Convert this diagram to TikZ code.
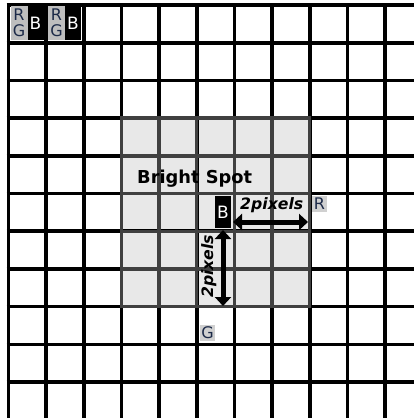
\documentclass[tikz,border=0pt]{standalone}
\usepackage{fontspec}
\setmainfont{DejaVu Sans}
\usetikzlibrary{arrows.meta}
\definecolor{spotgray}{HTML}{E8E8E8}
\definecolor{darkgrid}{HTML}{404040}
\definecolor{bayergray}{HTML}{BEBEBE}
\definecolor{labelgray}{HTML}{D0D0D0}
\definecolor{lettercol}{HTML}{1C2A48}
\tikzset{
  gridline/.style={line width=3.6pt, black},
  spotline/.style={line width=3.4pt, darkgrid},
  bluebox/.style={fill=black, text=white, inner sep=0pt, font=\fontsize{17}{17}\selectfont},
  rgbox/.style={fill=bayergray, inner sep=0pt},
  rgletter/.style={text=lettercol, inner sep=0pt, font=\fontsize{16}{16}\selectfont},
  farlabel/.style={fill=labelgray, text=lettercol, inner sep=0pt, minimum width=15pt, minimum height=16pt, font=\fontsize{16}{16}\selectfont},
  dblarrow/.style={line width=5pt, {Triangle[length=9pt,width=16pt]}-{Triangle[length=9pt,width=16pt]}},
  pixtext/.style={inner sep=0pt, font=\fontsize{15.7}{15.7}\selectfont\bfseries\itshape},
}
\begin{document}
\begin{tikzpicture}[x=1pt,y=-1pt]
\useasboundingbox (0,0) rectangle (414,418);
\fill[white] (0,0) rectangle (414,418);
\begin{scope}
\clip (0,0) rectangle (414,418);
\fill[spotgray] (121.45,118.1) rectangle (309.7,306.6);
\foreach \i in {0,...,10} {
  \draw[gridline] ({8.5+37.65*\i},3.2) -- ({8.5+37.65*\i},420);
  \draw[gridline] (6.7,{5+37.7*\i}) -- (416,{5+37.7*\i});
}
\foreach \i in {4,...,7} {
  \draw[spotline] ({8.5+37.65*\i},118.1) -- ({8.5+37.65*\i},306.6);
  \draw[spotline] (121.45,{5+37.7*\i}) -- (309.7,{5+37.7*\i});
}
\draw[spotline] (121.45,118.1) rectangle (309.7,306.6);
\end{scope}
% Bayer cells top-left
\node[rgbox, minimum width=17pt, minimum height=34pt] (rg1) at (19,23) {};
\node[bluebox, minimum width=16pt, minimum height=34pt] (b1) at (35.5,23) {B};
\node[rgletter] (r1) at (19,14.5) {R};
\node[rgletter] (g1) at (19,31) {G};
\node[rgbox, minimum width=17pt, minimum height=34pt] (rg2) at (56.5,23) {};
\node[bluebox, minimum width=16pt, minimum height=34pt] (b2) at (73,23) {B};
\node[rgletter] (r2) at (56.5,14.5) {R};
\node[rgletter] (g2) at (56.5,31) {G};
% Bright spot label
\node[inner sep=0pt, anchor=base west, font=\fontsize{17.8}{17.8}\selectfont\bfseries] (bright) at (137,183) {Bright Spot};
% center B pixel
\node[bluebox, minimum width=16pt, minimum height=32pt] (bc) at (223,212) {B};
% R and G labels
\node[farlabel] (rlab) at (319.5,203.5) {R};
\node[farlabel] (glab) at (207.5,333) {G};
% arrows
\coordinate (hl) at (233,222);
\coordinate (hr) at (308,222);
\coordinate (vt) at (223,230);
\coordinate (vb) at (223,306);
\draw[dblarrow] (hl) -- (hr);
\draw[dblarrow] (vt) -- (vb);
\node[pixtext, anchor=base west] (hpix) at (240,209) {2pixels};
\node[pixtext, anchor=base west, rotate=90] (vpix) at (213,298) {2pixels};
\end{tikzpicture}
\end{document}
